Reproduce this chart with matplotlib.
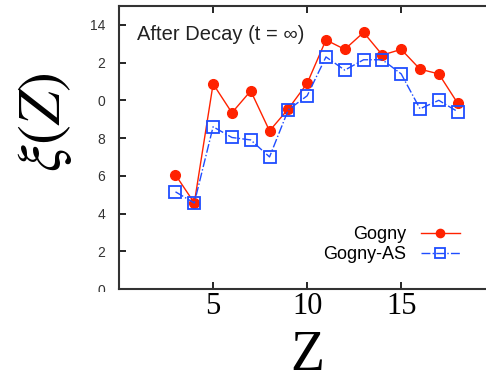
import matplotlib.pyplot as plt
from matplotlib.transforms import Bbox, TransformedBbox

plt.rcParams['mathtext.fontset'] = 'stix'

z = [3, 4, 5, 6, 7, 8, 9, 10, 11, 12, 13, 14, 15, 16, 17, 18]
gogny = [6.05, 4.56, 10.87, 9.34, 10.5, 8.38, 9.55, 10.9, 13.2, 12.7, 13.6, 12.4, 12.7, 11.65, 11.4, 9.85]
gogny_as = [5.15, 4.56, 8.6, 8.03, 7.9, 7.0, 9.5, 10.24, 12.3, 11.6, 12.15, 12.15, 11.4, 9.55, 10.0, 9.4]
yticks = [0, 2, 4, 6, 8, 10, 12, 14]
ytick_labels = ['0', '2', '4', '6', '8', '0', '2', '14']
xticks = [5, 10, 15]

fig = plt.figure(figsize=(4.86, 3.83), dpi=100)
ax = fig.add_axes([0.245, 0.2454, 0.774, 0.739])

ax.plot(z, gogny, color='#ff2200', linestyle='-', linewidth=1.0,
        marker='o', markersize=7, label='Gogny')
ax.plot(z, gogny_as, color='#1f4dff', linestyle='-.', linewidth=1.0,
        marker='s', markersize=8, markerfacecolor='none', markeredgewidth=1.3,
        label='Gogny-AS')

ax.set_xlim(0, 20)
ax.set_ylim(0, 15)
ax.set_xticks(xticks)
ax.set_xticklabels([str(t) for t in xticks], fontsize=22, family='Liberation Serif')
ax.set_yticks(yticks)
ax.set_yticklabels(ytick_labels, fontsize=10, family='Liberation Sans', color='#333333')
ax.tick_params(direction='in', top=True, length=5, width=1.2)
ax.tick_params(axis='x', pad=2)
ax.tick_params(axis='y', pad=10)
for s in ax.spines.values():
    s.set_linewidth(1.5)
    s.set_color('#333333')

# bottom "0" label is cut off in the original
clip = TransformedBbox(Bbox([[0, 0.238], [1, 1]]), fig.transFigure)
ax.yaxis.get_major_ticks()[0].label1.set_clip_box(clip)
ax.yaxis.get_major_ticks()[0].label1.set_clip_on(True)

ax.set_xlabel('Z', fontsize=40, family='Liberation Serif', va='center')
ax.xaxis.set_label_coords(0.5, -0.235)
ax.set_ylabel(r'$\xi(Z)$', fontsize=43, va='center')
ax.yaxis.set_label_coords(-0.197, 0.59)

ax.text(0.048, 0.898, 'After Decay (t = \u221e)', transform=ax.transAxes,
        fontsize=14.5, family='Liberation Sans', color='#222222', va='center')

ax.legend(loc='lower right', bbox_to_anchor=(0.947, 0.313), bbox_transform=fig.transFigure,
          markerfirst=False, frameon=False, prop={'family': 'Liberation Sans', 'size': 13},
          handlelength=2.2, labelspacing=0.15, borderpad=0, borderaxespad=0,
          handletextpad=0.8, markerscale=0.85)

fig.savefig('out.png', dpi=100)
